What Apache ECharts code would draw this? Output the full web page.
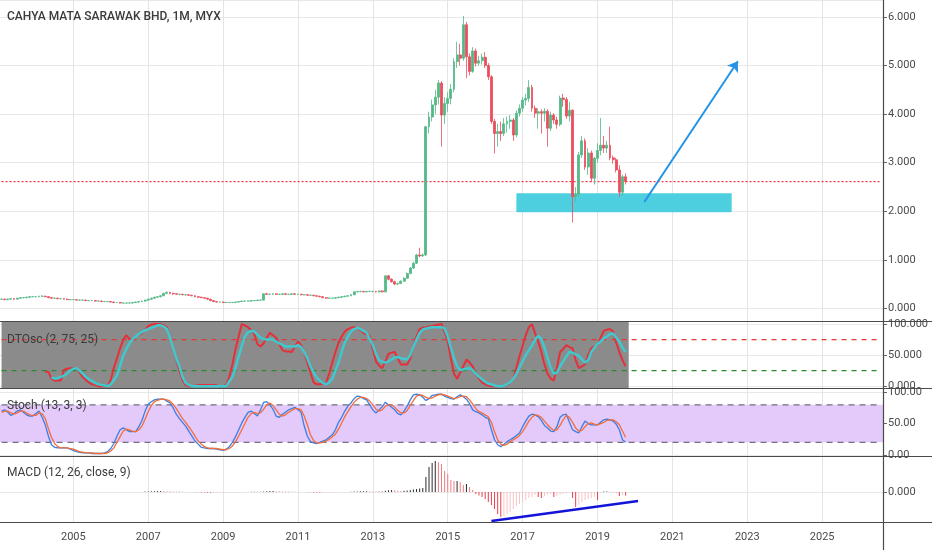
<!DOCTYPE html>
<html>
<head>
<meta charset="utf-8">
<script src="https://cdn.jsdelivr.net/npm/echarts@6.0.0/dist/echarts.min.js"></script>
<style>
  html, body { margin: 0; padding: 0; background: #fff; }
  #chart { width: 932px; height: 550px; }
</style>
</head>
<body>
<div id="chart"></div>
<script>
// monthly categories, 2003-02 .. 2026-08 (axis runs past the data like the original)
const months = []
for (let k = 0; k < 283; k++) {
  const m = (1 + k) % 12
  const y = 2003 + Math.floor((1 + k) / 12)
  months.push(y + '-' + String(m + 1).padStart(2, '0'))
}
const firstMonth = months[0]
const lastMonth = months[months.length - 1]

// [open, close, low, high] per month from 2003-02 to 2019-10
const candles = [
  // 2003
  [0.19,0.19,0.18,0.20],[0.19,0.18,0.17,0.20],[0.18,0.19,0.17,0.20],[0.19,0.20,0.18,0.21],[0.20,0.19,0.18,0.21],[0.19,0.21,0.19,0.22],[0.21,0.22,0.20,0.23],[0.22,0.22,0.21,0.23],[0.22,0.23,0.21,0.24],[0.23,0.24,0.22,0.25],[0.24,0.24,0.23,0.25],
  // 2004
  [0.24,0.24,0.23,0.25],[0.24,0.25,0.23,0.26],[0.25,0.25,0.24,0.27],[0.25,0.24,0.23,0.26],[0.24,0.22,0.21,0.25],[0.22,0.21,0.20,0.23],[0.21,0.21,0.20,0.22],[0.21,0.20,0.19,0.22],[0.20,0.20,0.19,0.21],[0.20,0.19,0.18,0.21],[0.19,0.18,0.17,0.20],[0.18,0.18,0.17,0.19],
  // 2005
  [0.18,0.18,0.17,0.19],[0.18,0.17,0.16,0.19],[0.17,0.17,0.16,0.18],[0.17,0.17,0.16,0.18],[0.17,0.16,0.15,0.18],[0.16,0.16,0.15,0.17],[0.16,0.16,0.15,0.17],[0.16,0.15,0.14,0.17],[0.15,0.15,0.14,0.16],[0.15,0.14,0.13,0.16],[0.14,0.14,0.13,0.15],[0.14,0.14,0.13,0.15],
  // 2006
  [0.14,0.13,0.12,0.15],[0.13,0.12,0.11,0.14],[0.12,0.12,0.11,0.13],[0.12,0.11,0.10,0.13],[0.11,0.11,0.10,0.12],[0.11,0.11,0.10,0.12],[0.11,0.11,0.10,0.12],[0.11,0.12,0.10,0.13],[0.12,0.13,0.11,0.14],[0.13,0.14,0.12,0.15],[0.14,0.15,0.13,0.16],[0.15,0.17,0.14,0.18],
  // 2007
  [0.17,0.19,0.16,0.20],[0.19,0.21,0.18,0.22],[0.21,0.23,0.20,0.24],[0.23,0.24,0.22,0.25],[0.24,0.26,0.23,0.27],[0.26,0.31,0.25,0.32],[0.31,0.33,0.29,0.35],[0.33,0.31,0.29,0.34],[0.31,0.30,0.28,0.32],[0.30,0.29,0.28,0.31],[0.29,0.29,0.27,0.30],[0.29,0.28,0.27,0.30],
  // 2008
  [0.28,0.28,0.26,0.29],[0.28,0.27,0.26,0.29],[0.27,0.26,0.25,0.28],[0.26,0.24,0.23,0.27],[0.24,0.23,0.22,0.25],[0.23,0.22,0.21,0.24],[0.22,0.21,0.20,0.23],[0.21,0.19,0.18,0.22],[0.19,0.16,0.15,0.20],[0.16,0.14,0.13,0.17],[0.14,0.13,0.12,0.15],[0.13,0.13,0.12,0.14],
  // 2009
  [0.13,0.12,0.11,0.14],[0.12,0.12,0.11,0.13],[0.12,0.12,0.11,0.13],[0.12,0.12,0.11,0.13],[0.12,0.13,0.11,0.14],[0.13,0.14,0.12,0.15],[0.14,0.15,0.13,0.16],[0.15,0.15,0.14,0.16],[0.15,0.15,0.14,0.16],[0.15,0.16,0.14,0.17],[0.16,0.16,0.15,0.17],[0.16,0.17,0.15,0.18],
  // 2010
  [0.17,0.17,0.16,0.18],[0.17,0.30,0.16,0.31],[0.30,0.29,0.28,0.32],[0.29,0.29,0.28,0.30],[0.29,0.30,0.28,0.31],[0.30,0.29,0.28,0.31],[0.29,0.29,0.28,0.30],[0.29,0.30,0.28,0.31],[0.30,0.29,0.28,0.31],[0.29,0.29,0.28,0.30],[0.29,0.30,0.28,0.31],[0.30,0.29,0.28,0.31],
  // 2011
  [0.29,0.29,0.28,0.30],[0.29,0.28,0.27,0.30],[0.28,0.28,0.27,0.29],[0.28,0.27,0.26,0.29],[0.27,0.27,0.26,0.28],[0.27,0.26,0.25,0.28],[0.26,0.25,0.24,0.27],[0.25,0.24,0.23,0.26],[0.24,0.22,0.21,0.25],[0.22,0.21,0.20,0.23],[0.21,0.21,0.20,0.22],[0.21,0.21,0.20,0.22],
  // 2012
  [0.21,0.22,0.20,0.23],[0.22,0.23,0.21,0.24],[0.23,0.24,0.22,0.25],[0.24,0.25,0.23,0.26],[0.25,0.26,0.24,0.27],[0.26,0.28,0.25,0.29],[0.28,0.34,0.27,0.35],[0.34,0.35,0.33,0.36],[0.35,0.35,0.33,0.36],[0.35,0.34,0.33,0.36],[0.34,0.35,0.33,0.36],[0.35,0.35,0.34,0.36],
  // 2013
  [0.35,0.35,0.33,0.36],[0.35,0.34,0.33,0.36],[0.34,0.36,0.33,0.37],[0.36,0.34,0.33,0.37],[0.34,0.67,0.33,0.68],[0.67,0.60,0.58,0.69],[0.60,0.55,0.53,0.62],[0.55,0.50,0.48,0.57],[0.50,0.51,0.48,0.53],[0.51,0.56,0.50,0.58],[0.56,0.62,0.55,0.64],[0.62,0.72,0.61,0.74],
  // 2014
  [0.72,0.83,0.70,0.85],[0.83,0.93,0.81,0.96],[0.93,1.10,0.91,1.12],[1.10,1.08,1.05,1.25],[1.08,1.10,1.06,1.13],[1.10,3.74,1.08,3.76],[3.74,3.94,3.60,4.05],[3.94,4.19,3.85,4.30],[4.19,4.35,4.00,4.50],[4.35,4.64,4.20,4.70],[4.64,3.98,3.33,4.68],[3.98,4.22,3.80,4.35],
  // 2015
  [4.22,4.32,4.05,4.45],[4.32,4.51,4.20,4.62],[4.51,5.08,4.45,5.15],[5.08,5.22,4.95,5.49],[5.22,5.15,5.00,5.45],[5.15,5.84,5.10,6.02],[5.84,5.18,4.74,5.90],[5.18,4.88,4.80,5.25],[4.88,5.30,4.85,5.38],[5.30,5.05,4.98,5.35],[5.05,5.10,5.00,5.20],[5.10,5.17,5.02,5.25],
  // 2016
  [5.17,5.00,4.95,5.28],[5.00,4.77,4.70,5.05],[4.77,3.85,3.80,4.80],[3.85,3.60,3.19,3.90],[3.60,3.64,3.33,3.80],[3.64,3.60,3.45,3.85],[3.60,3.80,3.55,3.92],[3.80,3.85,3.62,3.95],[3.85,3.88,3.70,3.98],[3.88,3.57,3.45,3.92],[3.57,4.02,3.52,4.08],[4.02,4.12,3.95,4.20],
  // 2017
  [4.12,4.29,4.05,4.35],[4.29,4.32,4.18,4.42],[4.32,4.55,4.25,4.70],[4.55,4.12,4.05,4.60],[4.12,4.02,3.92,4.18],[4.02,4.05,3.70,4.12],[4.05,4.02,3.60,4.10],[4.02,4.06,3.85,4.12],[4.06,3.71,3.33,4.10],[3.71,3.98,3.65,4.05],[3.98,3.88,3.80,4.02],[3.88,3.79,3.70,3.95],
  // 2018
  [3.79,4.33,3.75,4.38],[4.33,4.30,4.15,4.42],[4.30,3.96,3.90,4.35],[3.96,4.08,3.85,4.25],[4.08,2.30,1.77,4.10],[2.30,2.35,2.20,2.50],[2.35,3.16,2.30,3.22],[3.16,3.45,3.10,3.55],[3.45,2.91,2.85,3.50],[2.91,3.20,2.75,3.30],[3.20,2.68,2.60,3.25],[2.68,3.09,2.55,3.12],
  // 2019
  [3.09,3.25,3.00,3.40],[3.25,3.36,3.15,3.92],[3.36,3.30,3.20,3.55],[3.30,3.36,3.20,3.45],[3.36,3.10,3.05,3.74],[3.10,3.06,2.98,3.15],[3.06,2.85,2.80,3.10],[2.85,2.39,2.30,2.95],[2.39,2.71,2.33,2.75],[2.71,2.61,2.55,2.78]
]

// DTOsc (2, 75, 25) fast / slow lines
const dtoFast = [
  '-','-','-','-','-','-','-','-','-','-','-',
  '-','-','-',23,23,12,9,9,9,26,28,29,
  29,29,22,15,10,6,3,2,0,0,0,0,
  10,30,45,61,75,82,76,75,80,83,85,90,
  97,99,100,100,100,98,95,78,60,43,25,10,
  2,0,0,0,2,2,2,2,2,2,1,0,
  0,2,15,35,60,80,100,98,95,90,84,68,
  64,69,78,86,82,78,68,58,56,56,55,64,
  72,66,55,38,22,6,3,3,4,5,20,38,
  55,70,80,88,92,94,95,93,90,86,83,81,
  60,40,33,29,40,52,54,55,45,35,35,35,
  45,65,80,92,94,95,96,97,98,99,100,88,
  72,45,20,12,22,32,43,38,32,20,12,6,
  3,1,0,0,0,0,1,2,5,12,30,48,
  65,82,95,100,85,72,55,35,20,12,9,30,
  55,60,66,63,61,42,29,32,35,50,61,64,
  66,78,89,91,92,88,70,55,42,32
]
const dtoSlow = [
  '-','-','-','-','-','-','-','-','-','-','-',
  '-','-','-','-','-',14,12,13,15,17,20,25,
  28,29,25,20,15,11,8,5,3,2,1,0,
  3,10,17,33,49,60,69,76,80,84,87,90,
  92,94,96,98,98,96,92,78,61,45,32,15,
  5,2,0,0,0,0,0,0,0,0,0,0,
  0,0,8,15,30,48,65,80,87,89,88,83,
  78,76,75,75,75,72,69,67,64,64,64,64,
  66,63,55,45,32,22,14,9,5,3,6,12,
  25,38,55,70,80,88,92,94,92,89,86,76,
  66,52,42,39,38,40,43,46,47,45,44,43,
  50,64,75,86,91,93,94,95,95,95,95,93,
  80,62,45,32,26,27,28,29,26,20,15,11,
  7,4,3,1,0,0,1,3,6,12,20,30,
  40,50,58,65,75,81,76,62,45,30,20,22,
  32,40,48,55,54,51,49,43,38,42,55,62,
  68,72,77,80,84,85,78,72,62,55
]
const dtoLevels = [75, 25]

// Stoch (13, 3, 3) %K and %D
const stochK = [
  70,72,68,63,66,70,72,68,64,62,62,
  66,70,60,48,30,16,12,11,11,11,11,9,
  7,5,4,3,3,3,2,2,2,2,3,5,
  10,18,30,40,43,40,37,37,37,45,55,70,
  81,85,88,89,89,89,86,83,75,65,58,52,
  46,38,30,22,17,12,11,10,10,10,9,8,
  7,9,13,20,29,40,51,60,68,70,66,62,
  72,84,85,80,73,62,60,65,68,72,74,76,
  72,68,46,30,21,19,18,20,22,24,28,32,
  40,52,60,70,78,83,90,94,93,90,88,80,
  72,67,72,77,84,80,76,72,66,64,70,78,
  88,96,97,96,92,87,90,95,96,97,97,94,
  92,90,89,93,96,93,89,82,72,69,67,64,
  60,58,40,24,16,13,17,21,24,27,31,35,
  45,54,62,65,64,61,55,47,43,38,37,45,
  60,64,65,52,40,37,35,45,54,50,48,48,
  48,52,56,57,56,54,49,40,24,20
]
const stochD = [
  68,70,70,67,65,67,70,70,67,64,63,
  63,67,66,58,42,28,18,13,11,11,11,10,
  9,7,5,4,3,3,3,2,2,2,2,3,
  6,11,20,29,38,41,40,38,37,40,46,57,
  69,79,85,87,89,89,88,86,81,74,66,58,
  52,45,38,30,22,17,13,11,10,10,10,9,
  8,8,10,14,21,30,40,50,60,66,68,66,
  67,73,80,83,79,72,65,62,64,68,71,74,
  74,72,62,48,32,23,19,19,20,22,25,29,
  33,41,51,61,69,77,84,89,92,92,90,86,
  80,73,70,72,78,80,80,76,71,67,67,71,
  79,87,94,96,95,92,90,91,94,96,97,96,
  94,92,90,91,93,94,93,88,81,74,69,67,
  64,61,52,37,24,17,15,17,21,24,27,31,
  37,45,54,60,64,63,60,54,48,43,39,40,
  47,56,63,60,52,43,38,39,45,50,51,49,
  48,50,52,55,56,56,53,48,38,28
]
const stochLevels = [80, 20]

// MACD (12, 26, close, 9) histogram
const macdHist = [
  '-','-','-','-','-','-','-','-','-','-','-',
  '-','-','-','-','-','-','-','-','-','-','-','-',
  '-','-','-','-','-','-','-','-','-','-','-','-',
  '-','-','-','-','-','-','-','-','-','-','-',0.004,
  0.006,0.007,0.008,0.009,0.010,0.009,0.008,0.007,0.006,0.005,0.004,0.002,
  0.001,0,-0.001,-0.002,-0.003,-0.005,-0.006,-0.007,-0.008,-0.008,-0.007,-0.007,
  -0.006,-0.006,-0.005,-0.004,-0.003,-0.002,-0.001,0,0.001,0.002,0.002,0.003,
  0.003,0.006,0.008,0.009,0.009,0.008,0.007,0.006,0.005,0.004,0.003,0.002,
  0.001,0,-0.001,-0.002,-0.003,-0.004,-0.006,-0.007,-0.007,-0.006,-0.005,-0.004,
  -0.003,-0.002,-0.001,0,0.001,0.002,0.005,0.006,0.007,0.008,0.008,0.006,
  0.005,0.004,0.004,0.005,0.012,0.018,0.020,0.018,0.012,0.010,0.012,0.016,
  0.020,0.025,0.030,0.035,0.040,0.150,0.250,0.290,0.310,0.300,0.280,0.210,
  0.180,0.120,0.110,0.110,0.100,0.070,0.080,0.050,0.020,-0.020,-0.035,-0.050,
  -0.070,-0.100,-0.130,-0.170,-0.220,-0.250,-0.240,-0.220,-0.200,-0.170,-0.140,-0.120,
  -0.100,-0.080,-0.060,-0.050,-0.030,-0.050,-0.060,-0.040,-0.030,-0.020,-0.050,-0.040,
  -0.030,-0.020,-0.015,-0.010,-0.060,-0.150,-0.130,-0.100,-0.080,-0.070,-0.060,-0.050,
  -0.080,-0.010,0.005,0.006,0.004,0.003,-0.005,-0.040,-0.030,-0.035
]

// drawings on the price pane (data coordinates)
const lastPrice = 2.61
const supportZone = [['2016-11', 2.37], ['2022-08', 1.98]]
const targetArrow = [['2020-04', 2.19], ['2022-10', 5.09]]
const macdTrend = [['2016-03', -0.29], ['2020-02', -0.09]]

const chart = echarts.init(document.getElementById('chart'), null, {renderer: 'canvas'})

const isYearTick = (idx, v) => v.endsWith('-01') && Number(v.slice(0, 4)) % 2 === 1
const grid = (top, height) => ({left: 0, top, width: 883, height, containLabel: false, outerBoundsMode: 'none'})
const xAxisFor = (gridIndex, labels) => ({
  type: 'category', gridIndex, data: months, boundaryGap: true,
  axisLine: {show: false}, axisTick: {show: false},
  axisLabel: labels
    ? {interval: isYearTick, formatter: v => v.slice(0, 4), color: '#4a4a4a', fontSize: 11, fontFamily: 'Roboto', margin: 10}
    : {show: false},
  splitLine: {show: true, interval: isYearTick, alignWithLabel: true, lineStyle: {color: '#e4e4e4', width: 1}}
})
const yAxisFor = (gridIndex, min, max, splitNumber, digits) => ({
  type: 'value', gridIndex, position: 'right', min, max, splitNumber,
  axisLine: {show: false},
  axisTick: {show: true, length: 4, lineStyle: {color: '#666'}},
  axisLabel: {
    showMinLabel: false, showMaxLabel: false, color: '#4a4a4a', fontSize: 11, fontFamily: 'Roboto', margin: 5,
    formatter: v => v.toFixed(digits)
  },
  splitLine: {show: true, lineStyle: {color: '#e8e8e8', width: 1}}
})
// full-width horizontal level: a two-point line across the pane
const levelSeries = (name, pane, y, color, dash, width) => ({
  name, type: 'line', xAxisIndex: pane, yAxisIndex: pane, silent: true,
  data: [[firstMonth, y], [lastMonth, y]],
  showSymbol: false, symbol: 'none',
  lineStyle: {color, type: dash, width},
  z: 2
})

// macd bar colours: grow/fall above & below zero
const macdData = macdHist.map((v, i) => {
  if (v === '-') return '-'
  const prev = i > 0 && macdHist[i - 1] !== '-' ? macdHist[i - 1] : 0
  let c
  if (v >= 0) c = v >= prev ? '#2b2b2b' : '#ee7b84'
  else c = v < prev ? '#e8404c' : '#f7c3c8'
  return {value: v, itemStyle: {color: c}}
})

const hLine = (y) => ({type: 'line', shape: {x1: 0, y1: y, x2: 932, y2: y}, style: {stroke: '#4a4a4a', lineWidth: 1.2}, z: 100})
const label = (text, x, y, font) => ({type: 'text', x, y, style: {text, font, fill: '#3b3b3b', textVerticalAlign: 'middle'}, z: 100})

const arrowLine = {color: '#2592e6', width: 2, type: 'solid'}

const option = {
  animation: false,
  backgroundColor: '#ffffff',
  grid: [grid(0, 321), grid(321, 67), grid(388, 68), grid(456, 66)],
  xAxis: [xAxisFor(0, false), xAxisFor(1, false), xAxisFor(2, false), xAxisFor(3, true)],
  yAxis: [
    yAxisFor(0, -0.26, 6.35, 6, 3),
    yAxisFor(1, -3, 105, 2, 3),
    yAxisFor(2, -2, 107, 2, 2),
    yAxisFor(3, -0.30, 0.36, 1, 3)
  ],
  graphic: [
    hLine(321.5), hLine(388.5), hLine(456.5), hLine(522.5),
    {type: 'line', shape: {x1: 883.5, y1: 0, x2: 883.5, y2: 550}, style: {stroke: '#4a4a4a', lineWidth: 1.2}, z: 100},
    label('CAHYA MATA SARAWAK BHD, 1M, MYX', 7, 17, '500 12px Roboto'),
    label('DTOsc (2, 75, 25)', 7, 340, '12px Roboto'),
    label('Stoch (13, 3, 3)', 7, 406, '12px Roboto'),
    label('MACD (12, 26, close, 9)', 7, 473, '12px Roboto')
  ],
  series: [
    levelSeries('last price', 0, lastPrice, '#f0364a', [2, 2], 1.3),
    {
      name: 'price', type: 'candlestick', xAxisIndex: 0, yAxisIndex: 0, data: candles,
      barWidth: 2.4, z: 3,
      itemStyle: {color: '#53b987', color0: '#eb4d5c', borderColor: '#53b987', borderColor0: '#eb4d5c', borderWidth: 0.8},
      markArea: {
        silent: true,
        itemStyle: {color: '#4dcfe0', opacity: 1},
        data: [[{coord: supportZone[0]}, {coord: supportZone[1]}]]
      },
      markLine: {
        silent: true, symbol: 'none', label: {show: false},
        data: [[
          {coord: targetArrow[0], symbol: 'none', lineStyle: arrowLine},
          {coord: targetArrow[1], symbol: 'arrow', symbolSize: 10, lineStyle: arrowLine, itemStyle: {color: arrowLine.color}}
        ]]
      }
    },
    levelSeries('DTOsc upper', 1, dtoLevels[0], '#e53935', [5, 5], 1.2),
    levelSeries('DTOsc lower', 1, dtoLevels[1], '#2b8a2b', [5, 5], 1.2),
    {
      name: 'DTOsc fast', type: 'line', xAxisIndex: 1, yAxisIndex: 1, data: dtoFast, z: 3,
      showSymbol: false, lineStyle: {color: '#e3303b', width: 2},
      markArea: {
        silent: true, itemStyle: {color: '#8b8b8b'},
        data: [[{xAxis: '2003-02', yAxis: -3}, {xAxis: '2019-11', yAxis: 105}]]
      }
    },
    {
      name: 'DTOsc slow', type: 'line', xAxisIndex: 1, yAxisIndex: 1, data: dtoSlow, z: 3,
      showSymbol: false, lineStyle: {color: '#3fc9cf', width: 2.5}
    },
    levelSeries('Stoch upper', 2, stochLevels[0], '#70707c', [6, 5], 1.2),
    levelSeries('Stoch lower', 2, stochLevels[1], '#70707c', [6, 5], 1.2),
    {
      name: '%K', type: 'line', xAxisIndex: 2, yAxisIndex: 2, data: stochK, z: 3,
      showSymbol: false, lineStyle: {color: '#3b7fe0', width: 1.3},
      markArea: {
        silent: true, itemStyle: {color: '#e4c9fb'},
        data: [[{yAxis: stochLevels[1]}, {yAxis: stochLevels[0]}]]
      }
    },
    {
      name: '%D', type: 'line', xAxisIndex: 2, yAxisIndex: 2, data: stochD, z: 3,
      showSymbol: false, lineStyle: {color: '#f26d3a', width: 1.3}
    },
    {
      name: 'MACD hist', type: 'bar', xAxisIndex: 3, yAxisIndex: 3, data: macdData,
      barWidth: 1,
      markLine: {
        silent: true, symbol: 'none', label: {show: false},
        data: [[
          {coord: macdTrend[0], lineStyle: {color: '#1414d8', width: 2.5, type: 'solid'}},
          {coord: macdTrend[1], lineStyle: {color: '#1414d8', width: 2.5, type: 'solid'}}
        ]]
      }
    }
  ]
}

chart.setOption(option)
</script>
</body>
</html>
